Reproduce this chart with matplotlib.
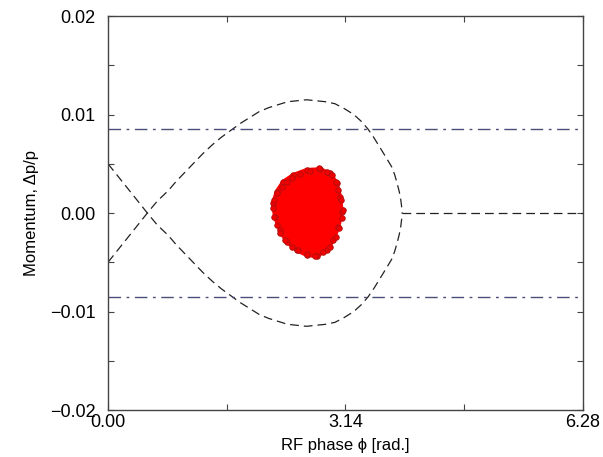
import numpy as np
import matplotlib.pyplot as plt

plt.rcParams['font.family'] = ['Liberation Sans', 'DejaVu Sans']

# separatrix, upper branch; lower branch is the mirror
sep_phi = [0.0, 0.125, 0.25, 0.375, 0.52, 0.65, 0.8, 0.9, 1.0, 1.125, 1.25, 1.375,
           1.5, 1.625, 1.75, 1.875, 2.0, 2.125, 2.25, 2.375, 2.5, 2.625, 2.75,
           2.875, 3.0, 3.125, 3.25, 3.35, 3.44, 3.52, 3.6, 3.68, 3.75, 3.79,
           3.82, 3.85, 3.87, 3.88, 3.89]
sep_dp = [-0.0050, -0.0038, -0.0026, -0.0014, 0.0, 0.0012, 0.0023, 0.0032, 0.0040,
          0.0050, 0.0060, 0.0069, 0.0077, 0.0084, 0.0091, 0.0097, 0.0103, 0.0107,
          0.0110, 0.0113, 0.0114, 0.0115, 0.0114, 0.0113, 0.0111, 0.0106, 0.0100,
          0.0093, 0.0085, 0.0076, 0.0066, 0.0056, 0.0047, 0.0039, 0.0031, 0.0022,
          0.0014, 0.0008, 0.0]

# flat part of the dashed line right of the bucket
flat_phi = [3.89, 6.28]
flat_dp = [0.0, 0.0]

# momentum acceptance limits (dash-dot)
limit_dp = [0.0085, -0.0085]

# outline of the particle cloud
cloud_phi = [2.803, 2.935, 3.024, 3.067, 3.090, 3.045, 2.979, 2.891, 2.759, 2.627,
             2.495, 2.363, 2.274, 2.208, 2.185, 2.230, 2.318, 2.450, 2.627]
cloud_dp = [0.00444, 0.00403, 0.00302, 0.00165, 0.00013, -0.00139, -0.00274,
            -0.00376, -0.00437, -0.00426, -0.00376, -0.00291, -0.00173, -0.00038,
            0.00098, 0.00216, 0.00318, 0.00386, 0.00437]

# single particles sticking out at the edge of the cloud
edge_phi = [2.428, 2.538, 2.671, 2.794, 2.891, 2.957, 3.014, 3.045, 3.076, 3.103,
            3.089, 3.058, 3.014, 2.935, 2.847, 2.737, 2.627, 2.516, 2.428, 2.340,
            2.274, 2.230, 2.195, 2.177, 2.199, 2.239, 2.296, 2.362]
edge_dp = [0.00352, 0.00396, 0.00430, 0.00453, 0.00420, 0.00386, 0.00318, 0.00234,
           0.00132, 0.00031, -0.00054, -0.00155, -0.00247, -0.00342, -0.00393,
           -0.00437, -0.00416, -0.00376, -0.00342, -0.00274, -0.00206, -0.00122,
           -0.00037, 0.00047, 0.00132, 0.00200, 0.00267, 0.00318]

xticks = [0.0, 1.57, 3.14, 4.71, 6.28]
xticklabels = ['0.00', '', '3.14', '', '6.28']
yticks = [-0.02, -0.015, -0.01, -0.005, 0.0, 0.005, 0.01, 0.015, 0.02]
yticklabels = ['\u22120.02', '', '\u22120.01', '', '0.00', '', '0.01', '', '0.02']

fig = plt.figure(figsize=(6.03, 4.57), dpi=100)
ax = fig.add_axes([0.1791, 0.1028, 0.7877, 0.8621])

sep_dp = np.array(sep_dp)
ax.plot(sep_phi, sep_dp, color='#222222', lw=0.9, ls=(0, (7, 4)))
ax.plot(sep_phi, -sep_dp, color='#222222', lw=0.9, ls=(0, (7, 4)))
ax.plot(flat_phi, flat_dp, color='#222222', lw=0.9, ls=(0, (7, 4)))

for y in limit_dp:
    ax.axhline(y, color='#4a4f78', lw=1.0, ls=(0, (9, 4, 2, 4)))

ax.fill(cloud_phi, cloud_dp, color='#ff0000', ec='#ff0000', lw=3, zorder=3)
ax.scatter(cloud_phi, cloud_dp, s=16, color='#f00000', edgecolors='#b01010',
           linewidths=0.6, zorder=4)
ax.scatter(edge_phi, edge_dp, s=16, color='#f00000', edgecolors='#b01010',
           linewidths=0.6, zorder=4)

ax.set_xlim(0, 6.28)
ax.set_ylim(-0.02, 0.02)
ax.set_xticks(xticks)
ax.set_xticklabels(xticklabels)
ax.set_yticks(yticks)
ax.set_yticklabels(yticklabels)
ax.tick_params(direction='in', length=4, width=0.8, color='#444444',
               top=True, right=True, labelsize=13, pad=3)
ax.tick_params(axis='y', pad=9)
for s in ax.spines.values():
    s.set_color('#444444')
    s.set_linewidth(1.0)

ax.set_xlabel('RF phase \u03d5 [rad.]', fontsize=12, labelpad=5)
ax.set_ylabel('Momentum, \u0394p/p', fontsize=12, labelpad=8)

fig.savefig('out.png', dpi=100)
